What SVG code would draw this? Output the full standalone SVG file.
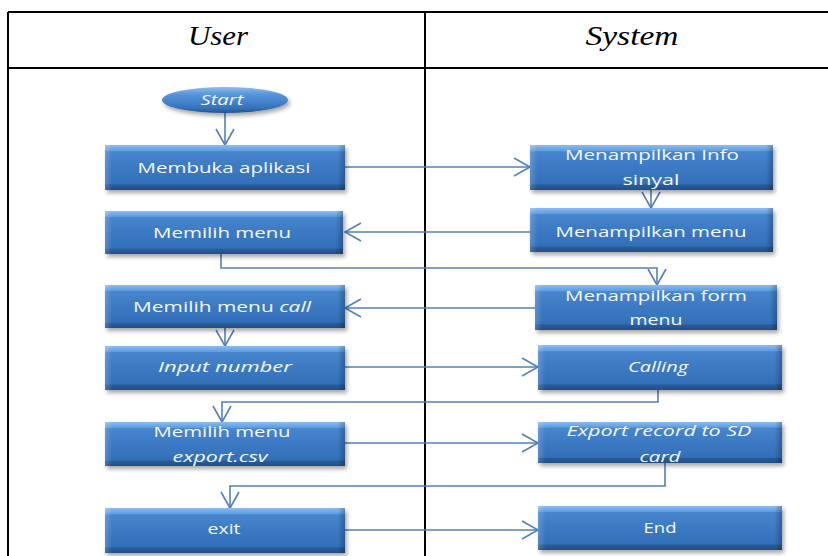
<svg xmlns="http://www.w3.org/2000/svg" width="828" height="556" viewBox="0 0 828 556">
  <style>
    .grid { stroke: #000; stroke-width: 2; fill: none; }
    .head { font-family: "Liberation Serif", serif; font-style: italic; font-size: 28px; fill: #000; text-anchor: middle; }
    .box { fill: url(#bodyGrad); filter: url(#shadow); }
    .side { fill: url(#sideGrad); }
    .lbl { font-family: "Open Sans", "Noto Sans", sans-serif; font-size: 15px; fill: #f4f8ff; text-anchor: middle; }
    .it { font-style: italic; }
    .conn { fill: none; stroke: #5580bb; stroke-width: 1.6; }
  </style>
  <defs>
    <linearGradient id="bodyGrad" x1="0" y1="0" x2="0" y2="1">
      <stop offset="0" stop-color="#8cbdf0"/>
      <stop offset="0.13" stop-color="#5d9be0"/>
      <stop offset="0.15" stop-color="#4785cd"/>
      <stop offset="0.55" stop-color="#3b78c2"/>
      <stop offset="0.86" stop-color="#3270b8"/>
      <stop offset="0.89" stop-color="#285c9c"/>
      <stop offset="1" stop-color="#234f86"/>
    </linearGradient>
    <linearGradient id="sideGrad" x1="0" y1="0" x2="1" y2="0">
      <stop offset="0" stop-color="#ffffff" stop-opacity="0.18"/>
      <stop offset="0.03" stop-color="#ffffff" stop-opacity="0"/>
      <stop offset="0.97" stop-color="#000000" stop-opacity="0"/>
      <stop offset="1" stop-color="#000000" stop-opacity="0.25"/>
    </linearGradient>
    <linearGradient id="ovalGrad" x1="0" y1="0" x2="0" y2="1">
      <stop offset="0" stop-color="#8cbdf0"/>
      <stop offset="0.3" stop-color="#5693da"/>
      <stop offset="0.8" stop-color="#3573bd"/>
      <stop offset="1" stop-color="#25548e"/>
    </linearGradient>
    <filter id="shadow" x="-10%" y="-20%" width="125%" height="150%">
      <feDropShadow dx="2" dy="3" stdDeviation="2" flood-color="#000" flood-opacity="0.35"/>
    </filter>
    <marker id="arr" viewBox="-1 -10 19 20" refX="16" refY="0" markerWidth="19" markerHeight="20" markerUnits="userSpaceOnUse" orient="auto">
      <path d="M0,-9 L16,0 L0,9" fill="none" stroke="#5580bb" stroke-width="1.6"/>
    </marker>
  </defs>

  <!-- table frame -->
  <g id="table">
    <path class="grid" d="M8,12 H828 M8,68 H828 M8,12 V556 M425,12 V556"/>
    <text class="head" x="218" y="45" textLength="60" lengthAdjust="spacingAndGlyphs">User</text>
    <text class="head" x="632" y="45" textLength="93" lengthAdjust="spacingAndGlyphs">System</text>
  </g>

  <!-- connectors -->
  <g id="connectors">
    <path class="conn" d="M225,113 V145" marker-end="url(#arr)"/>
    <path class="conn" d="M345,167 H530" marker-end="url(#arr)"/>
    <path class="conn" d="M651,190 V208" marker-end="url(#arr)"/>
    <path class="conn" d="M530,232 H345" marker-end="url(#arr)"/>
    <path class="conn" d="M221,254 V268 H657 V285" marker-end="url(#arr)"/>
    <path class="conn" d="M535,308 H345" marker-end="url(#arr)"/>
    <path class="conn" d="M225,328 V346" marker-end="url(#arr)"/>
    <path class="conn" d="M345,367 H538" marker-end="url(#arr)"/>
    <path class="conn" d="M658,390 V402 H222 V422" marker-end="url(#arr)"/>
    <path class="conn" d="M345,443 H538" marker-end="url(#arr)"/>
    <path class="conn" d="M665,463 V486 H230 V508" marker-end="url(#arr)"/>
    <path class="conn" d="M345,530 H538" marker-end="url(#arr)"/>
  </g>

  <!-- user lane -->
  <g id="start">
    <ellipse cx="225" cy="100" rx="63" ry="13" fill="url(#ovalGrad)" filter="url(#shadow)"/>
    <text class="lbl it" x="222" y="105" font-size="13" textLength="43" lengthAdjust="spacingAndGlyphs">Start</text>
  </g>
  <g id="membuka-aplikasi">
    <rect class="box" x="105" y="145" width="240" height="45"/>
    <rect class="side" x="105" y="145" width="240" height="45"/>
    <text class="lbl" x="224" y="173" textLength="173" lengthAdjust="spacingAndGlyphs">Membuka aplikasi</text>
  </g>
  <g id="memilih-menu">
    <rect class="box" x="105" y="211" width="238" height="43"/>
    <rect class="side" x="105" y="211" width="238" height="43"/>
    <text class="lbl" x="222" y="238" textLength="138" lengthAdjust="spacingAndGlyphs">Memilih menu</text>
  </g>
  <g id="memilih-menu-call">
    <rect class="box" x="105" y="285" width="240" height="43"/>
    <rect class="side" x="105" y="285" width="240" height="43"/>
    <text class="lbl" x="222" y="312" textLength="178" lengthAdjust="spacingAndGlyphs">Memilih menu <tspan class="it">call</tspan></text>
  </g>
  <g id="input-number">
    <rect class="box" x="105" y="346" width="240" height="44"/>
    <rect class="side" x="105" y="346" width="240" height="44"/>
    <text class="lbl it" x="225" y="372" textLength="134" lengthAdjust="spacingAndGlyphs">Input  number</text>
  </g>
  <g id="memilih-menu-export">
    <rect class="box" x="105" y="422" width="240" height="44"/>
    <rect class="side" x="105" y="422" width="240" height="44"/>
    <text class="lbl" x="222" y="437" textLength="137" lengthAdjust="spacingAndGlyphs">Memilih menu</text>
    <text class="lbl it" x="220" y="462" textLength="95" lengthAdjust="spacingAndGlyphs">export.csv</text>
  </g>
  <g id="exit">
    <rect class="box" x="105" y="508" width="240" height="45"/>
    <rect class="side" x="105" y="508" width="240" height="45"/>
    <text class="lbl" x="224" y="534" textLength="33" lengthAdjust="spacingAndGlyphs">exit</text>
  </g>

  <!-- system lane -->
  <g id="menampilkan-info">
    <rect class="box" x="530" y="145" width="243" height="45"/>
    <rect class="side" x="530" y="145" width="243" height="45"/>
    <text class="lbl" x="652" y="160" textLength="174" lengthAdjust="spacingAndGlyphs">Menampilkan Info</text>
    <text class="lbl" x="651" y="185" textLength="57" lengthAdjust="spacingAndGlyphs">sinyal</text>
  </g>
  <g id="menampilkan-menu">
    <rect class="box" x="530" y="208" width="243" height="44"/>
    <rect class="side" x="530" y="208" width="243" height="44"/>
    <text class="lbl" x="651" y="237" textLength="191" lengthAdjust="spacingAndGlyphs">Menampilkan menu</text>
  </g>
  <g id="menampilkan-form-menu">
    <rect class="box" x="535" y="285" width="242" height="45"/>
    <rect class="side" x="535" y="285" width="242" height="45"/>
    <text class="lbl" x="656" y="301" textLength="182" lengthAdjust="spacingAndGlyphs">Menampilkan form</text>
    <text class="lbl" x="656" y="325" textLength="53" lengthAdjust="spacingAndGlyphs">menu</text>
  </g>
  <g id="calling">
    <rect class="box" x="538" y="345" width="244" height="45"/>
    <rect class="side" x="538" y="345" width="244" height="45"/>
    <text class="lbl it" x="658" y="372" textLength="60" lengthAdjust="spacingAndGlyphs">Calling</text>
  </g>
  <g id="export-record">
    <rect class="box" x="538" y="422" width="244" height="41"/>
    <rect class="side" x="538" y="422" width="244" height="41"/>
    <text class="lbl it" x="659" y="436" textLength="185" lengthAdjust="spacingAndGlyphs">Export  record  to SD</text>
    <text class="lbl it" x="660" y="462" textLength="41" lengthAdjust="spacingAndGlyphs">card</text>
  </g>
  <g id="end">
    <rect class="box" x="538" y="506" width="244" height="44"/>
    <rect class="side" x="538" y="506" width="244" height="44"/>
    <text class="lbl" x="660" y="533" textLength="33" lengthAdjust="spacingAndGlyphs">End</text>
  </g>
</svg>
